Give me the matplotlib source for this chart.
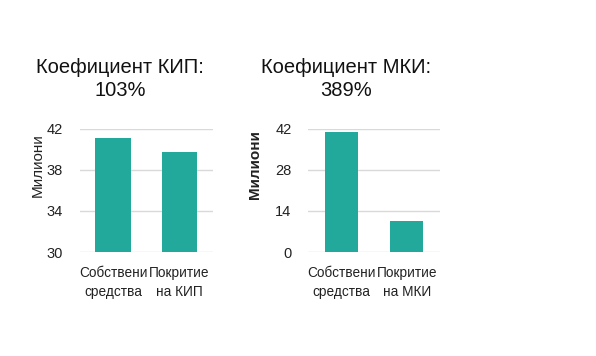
import matplotlib
matplotlib.use("Agg")
import matplotlib.pyplot as plt

categories_kip = ["Собствени\nсредства", "Покритие\nна КИП"]
values_kip = [41.1, 39.7]
ticks_kip = [30, 34, 38, 42]

categories_mki = ["Собствени\nсредства", "Покритие\nна МКИ"]
values_mki = [41.1, 10.6]
ticks_mki = [0, 14, 28, 42]

title_kip = "Коефициент КИП:\n103%"
title_mki = "Коефициент МКИ:\n389%"
ylabel = "Милиони"

bar_color = "#22A99B"
grid_color = "#D9D9D9"
narrow = ["Liberation Sans Narrow", "Liberation Sans", "DejaVu Sans"]

fig = plt.figure(figsize=(5.96, 3.56), dpi=100)
fig.patch.set_facecolor("white")

def make(ax, cats, vals, ticks, width):
    x = list(range(len(cats)))
    ax.bar(x, [v - ticks[0] for v in vals], bottom=ticks[0], width=width,
           color=bar_color, zorder=3)
    ax.set_ylim(ticks[0], ticks[-1])
    ax.set_xlim(-0.5, len(cats) - 0.5)
    ax.set_yticks(ticks)
    ax.set_xticks(x)
    ax.set_xticklabels(cats, fontsize=9.8, family=narrow, color="#222222",
                       linespacing=1.45)
    ax.set_yticklabels([str(t) for t in ticks], fontsize=10.5, family=narrow,
                       color="#222222")
    for s in ax.spines.values():
        s.set_visible(False)
    ax.tick_params(axis="both", length=0)
    ax.tick_params(axis="y", pad=12)
    ax.tick_params(axis="x", pad=10)
    ax.yaxis.grid(True, color=grid_color, linewidth=1, zorder=0)
    ax.set_axisbelow(True)

ax1 = fig.add_axes([0.134, 0.292, 0.223, 0.346])
make(ax1, categories_kip, values_kip, ticks_kip, 0.54)
ax2 = fig.add_axes([0.517, 0.292, 0.221, 0.346])
make(ax2, categories_mki, values_mki, ticks_mki, 0.5)

fig.text(38 / 596, 1 - 165 / 356, ylabel, rotation=90, ha="center", va="center",
         fontsize=11, family=narrow, color="#222222")
fig.text(255 / 596, 1 - 165 / 356, ylabel, rotation=90, ha="center", va="center",
         fontsize=11, family=narrow, fontweight="bold", color="#222222")

fig.text(120 / 596, 1 - 79 / 356, title_kip, ha="center", va="center",
         fontsize=14.5, family=["Liberation Sans", "DejaVu Sans"], color="#111111",
         linespacing=1.3)
fig.text(346 / 596, 1 - 79 / 356, title_mki, ha="center", va="center",
         fontsize=14.5, family=["Liberation Sans", "DejaVu Sans"], color="#111111",
         linespacing=1.3)

fig.savefig("out.png", dpi=100, facecolor="white")
